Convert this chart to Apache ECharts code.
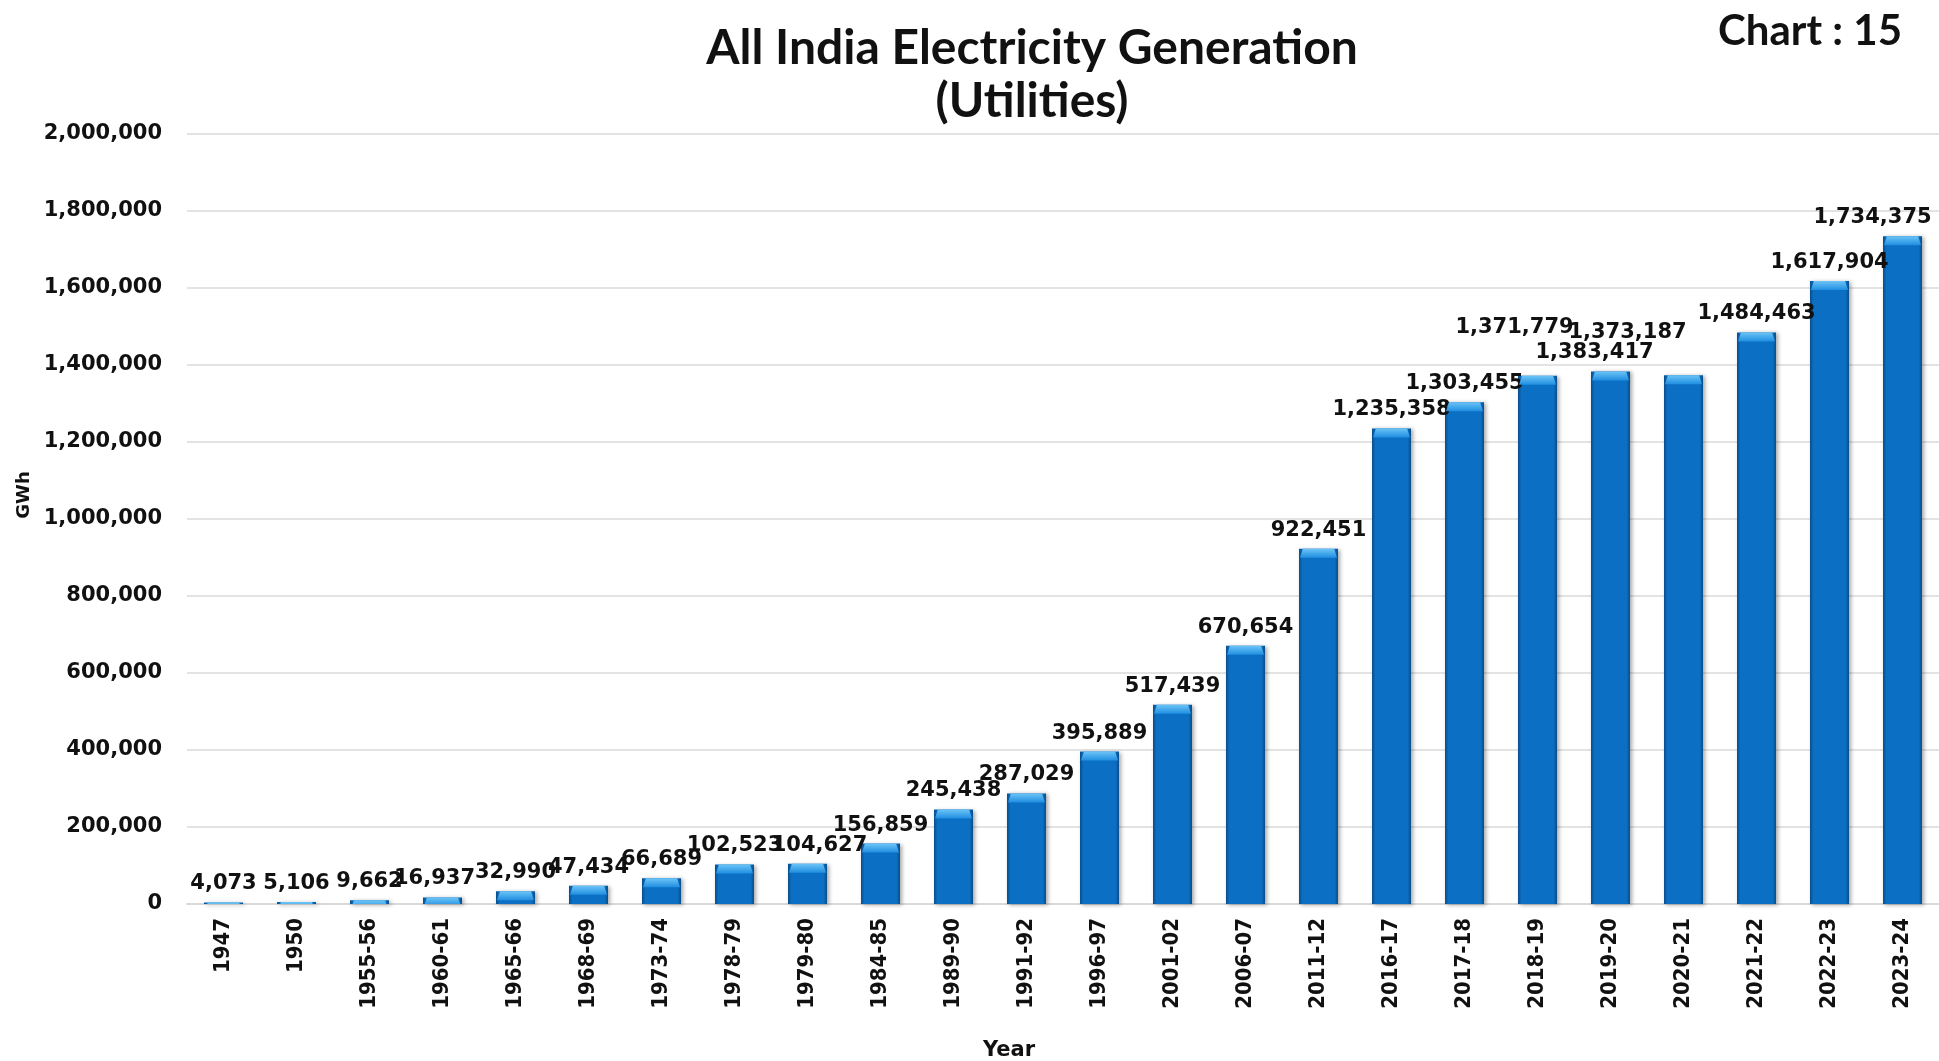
<!DOCTYPE html>
<html>
<head>
<meta charset="utf-8">
<script src="https://cdn.jsdelivr.net/npm/echarts@6/dist/echarts.min.js"></script>
<style>
  html, body { margin: 0; padding: 0; background: #fff; }
  #chart { width: 1939px; height: 1061px; }
</style>
</head>
<body>
<div id="chart"></div>
<script>
// Year / financial-year periods along the category axis
const periods = ['1947', '1950', '1955-56', '1960-61', '1965-66', '1968-69', '1973-74',
  '1978-79', '1979-80', '1984-85', '1989-90', '1991-92', '1996-97', '2001-02', '2006-07',
  '2011-12', '2016-17', '2017-18', '2018-19', '2019-20', '2020-21', '2021-22', '2022-23', '2023-24'];

// Electricity generated by utilities, GWh
const generationGWh = [4073, 5106, 9662, 16937, 32990, 47434, 66689, 102523, 104627, 156859,
  245438, 287029, 395889, 517439, 670654, 922451, 1235358, 1303455, 1371779, 1383417,
  1373187, 1484463, 1617904, 1734375];

// Value axis ticks
const yTicks = [0, 200000, 400000, 600000, 800000, 1000000, 1200000, 1400000, 1600000, 1800000, 2000000];

// Label nudges [dx, dy] so crowded neighbouring labels stay readable and the last one stays on canvas
const labelNudges = {
  '1960-61': [-8, 0], '1979-80': [12, 0],
  '2018-19': [-23, -30], '2019-20': [-16, 0], '2020-21': [-56, -24], '2023-24': [-30, 0]
};

const fmt = v => Number(v).toLocaleString('en-US');
const labelFont = '"DejaVu Sans", Verdana, sans-serif';
const narrowFont = '"DejaVu Sans Condensed", "Liberation Sans Narrow", "Arial Narrow", sans-serif';
const titleFont = 'Lato, Calibri, "Open Sans", sans-serif';

const barData = generationGWh.map((v, i) => {
  const nudge = labelNudges[periods[i]];
  return nudge ? { value: v, label: { offset: nudge } } : v;
});

const chart = echarts.init(document.getElementById('chart'));
chart.setOption({
  backgroundColor: '#ffffff',
  animation: false,
  title: [
    {
      text: 'All India Electricity Generation\n(Utilities)',
      left: 1027, top: 17, textAlign: 'center',
      textStyle: { fontFamily: titleFont, fontWeight: 'bold', fontSize: 48, lineHeight: 53, color: '#111' }
    },
    {
      text: 'Chart : 15',
      right: 32, top: 5,
      textStyle: { fontFamily: titleFont, fontWeight: 'bold', fontSize: 42, color: '#111' }
    }
  ],
  grid: { left: 187, right: 0, top: 134, bottom: 157, outerBoundsMode: 'none', containLabel: false },
  xAxis: {
    type: 'category',
    data: periods,
    name: 'Year',
    nameLocation: 'middle',
    nameGap: 136,
    nameTextStyle: { fontFamily: labelFont, fontWeight: 'bold', fontSize: 21, color: '#111', padding: [0, 108, 0, 0] },
    axisLine: { lineStyle: { color: '#d9d9d9', width: 2 } },
    axisTick: { show: false },
    axisLabel: {
      rotate: 90, interval: 0, margin: 14,
      fontFamily: narrowFont, fontWeight: 'bold', fontSize: 22, color: '#111'
    }
  },
  yAxis: {
    type: 'value',
    min: yTicks[0], max: yTicks[yTicks.length - 1], interval: yTicks[1] - yTicks[0],
    name: 'GWh',
    nameLocation: 'middle',
    nameGap: 148,
    nameTextStyle: { fontFamily: labelFont, fontWeight: 'bold', fontSize: 18, color: '#111', padding: [0, 0, 0, 48] },
    axisLine: { show: false },
    axisTick: { show: false },
    splitLine: { lineStyle: { color: '#e3e3e3', width: 2 } },
    axisLabel: {
      margin: 25,
      fontFamily: labelFont, fontWeight: 'bold', fontSize: 21, color: '#111',
      formatter: v => fmt(v)
    }
  },
  series: [
    {
      type: 'bar',
      data: barData,
      barWidth: 39,
      itemStyle: {
        color: new echarts.graphic.LinearGradient(0, 0, 1, 0, [
          { offset: 0, color: '#0a4d8a' },
          { offset: 0.09, color: '#0b6fc3' },
          { offset: 0.91, color: '#0b6fc3' },
          { offset: 1, color: '#0a4d8a' }
        ]),
        shadowColor: 'rgba(0,0,0,0.35)', shadowBlur: 4, shadowOffsetX: 2, shadowOffsetY: 1
      },
      label: {
        show: true, position: 'top', distance: 8,
        fontFamily: labelFont, fontWeight: 'bold', fontSize: 21, color: '#111',
        formatter: p => fmt(p.value)
      },
      z: 2
    },
    {
      // bevelled cap on top of each bar
      type: 'pictorialBar',
      data: generationGWh,
      symbol: 'path://M0,10 L3,0 L35,0 L38,10 Z',
      symbolSize: [37, 9],
      symbolPosition: 'end',
      symbolOffset: [0, 0],
      clip: true,
      itemStyle: {
        color: new echarts.graphic.LinearGradient(0, 0, 0, 1, [
          { offset: 0, color: '#6cc4f7' },
          { offset: 1, color: '#1f8ee0' }
        ])
      },
      silent: true,
      tooltip: { show: false },
      z: 3
    }
  ]
});
</script>
</body>
</html>
